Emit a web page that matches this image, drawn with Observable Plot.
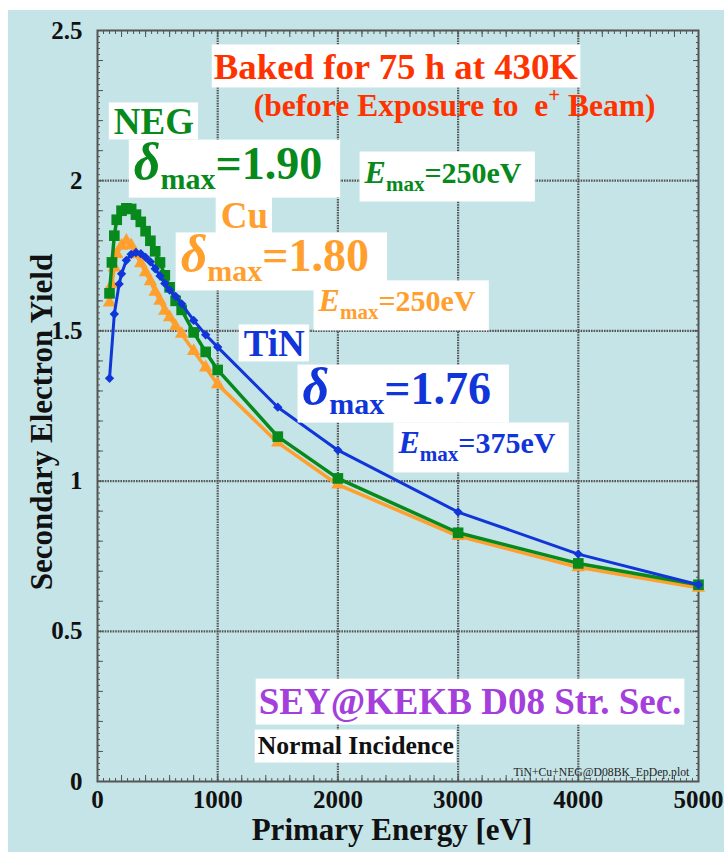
<!DOCTYPE html>
<html><head><meta charset="utf-8">
<script src="https://cdn.jsdelivr.net/npm/d3@7"></script>
<script src="https://cdn.jsdelivr.net/npm/@observablehq/plot@0.6"></script>
<style>
html,body{margin:0;padding:0;background:#fff;}
#wrap{position:relative;width:724px;height:852px;overflow:hidden;}
#bg{position:absolute;left:8px;top:10px;right:0;bottom:0;background:#c5e4e7;}
#chart{position:absolute;left:0;top:0;}
</style></head><body>
<div id="wrap"><div id="bg"></div><div id="chart"></div></div>
<script>
// ---- data ----
const negEnergy = [100,120,140,160,200,240,280,320,360,400,440,480,520,560,600,650,700,800,900,1000,1500,2000,3000,4000,5000];
const negYield  = [1.625,1.728,1.817,1.87,1.90,1.908,1.906,1.887,1.863,1.832,1.80,1.765,1.728,1.685,1.645,1.60,1.57,1.495,1.43,1.37,1.148,1.009,0.828,0.726,0.655];
const cuEnergy  = [100,120,140,160,200,240,280,320,360,400,440,480,520,560,600,650,700,800,900,1000,1500,2000,3000,4000,5000];
const cuYield   = [1.594,1.655,1.711,1.756,1.783,1.80,1.785,1.755,1.725,1.695,1.665,1.63,1.60,1.567,1.545,1.515,1.49,1.433,1.378,1.322,1.128,0.988,0.817,0.713,0.645];
const tinEnergy = [100,140,180,200,240,280,320,360,400,440,480,520,560,600,650,700,800,900,1000,1500,2000,3000,4000,5000];
const tinYield  = [1.342,1.556,1.656,1.69,1.735,1.755,1.761,1.757,1.745,1.73,1.707,1.683,1.658,1.636,1.615,1.59,1.535,1.487,1.446,1.246,1.103,0.897,0.757,0.655];

const xTicks = [0,1000,2000,3000,4000,5000];
const yTicks = [0,0.5,1,1.5,2,2.5];
const xMinor = d3.range(0,5001,200);
const yMinor = d3.range(0,2.5001,0.1);
const xFine  = d3.range(0,5001,50);
const yFine  = d3.range(0,2.5001,0.02);

const notes = [
  {label:"Baked for 75 h at 430K", x:967, y:2.337, kind:"title"},
  {label:"(before Exposure to  e+ Beam)", x:1299, y:2.217, kind:"subtitle"},
  {label:"NEG", x:136, y:2.154, kind:"name", series:"NEG"},
  {label:"δmax=1.90", x:302, y:2.007, kind:"delta", series:"NEG"},
  {label:"Emax=250eV", x:2222, y:1.994, kind:"emax", series:"NEG"},
  {label:"Cu", x:1025, y:1.841, kind:"name", series:"Cu"},
  {label:"δmax=1.80", x:692, y:1.698, kind:"delta", series:"Cu"},
  {label:"Emax=250eV", x:1839, y:1.565, kind:"emax", series:"Cu"},
  {label:"TiN", x:1216, y:1.415, kind:"name", series:"TiN"},
  {label:"δmax=1.76", x:1706, y:1.258, kind:"delta", series:"TiN"},
  {label:"Emax=375eV", x:2504, y:1.092, kind:"emax", series:"TiN"},
  {label:"SEY@KEKB D08 Str. Sec.", x:1341, y:0.226, kind:"sey"},
  {label:"Normal Incidence", x:1333, y:0.093, kind:"incidence"},
  {label:"TiN+Cu+NEG@D08BK_EpDep.plot", x:3461, y:0.017, kind:"file"}
];

// ---- styles ----
const C = {NEG:"#07891c", Cu:"#ffa02e", TiN:"#1035d8", red:"#ff3300", purple:"#a43fdb", ink:"#111111", grid:"#555555", frame:"#555555"};
const FONT = "'Liberation Serif','Times New Roman',serif";
const S = {
  title:{size:36.8, weight:"bold", color:C.red, box:[2,2,2,0]},
  subtitle:{size:31.5, weight:"bold", color:C.red, box:null},
  name:{size:37, weight:"bold", box:[5,-1,4,-3]},
  delta:{size:46, weight:"bold", box:[5,-7,18,3]},
  emax:{size:30, weight:"bold", box:[4,2,13,6]},
  sey:{size:37, weight:"bold", color:C.purple, box:[3,2,3,3]},
  incidence:{size:25.7, weight:"bold", color:C.ink, box:[3,1,2,3]},
  file:{size:11.7, weight:"normal", color:"#222", box:null}
};
const colorOf = n => n.series ? C[n.series] : S[n.kind].color;

const toRows = (E, V) => E.map((e,i) => ({e, v:V[i]}));
const neg = toRows(negEnergy, negYield);
const cu = toRows(cuEnergy, cuYield);
const tin = toRows(tinEnergy, tinYield);

const edgeTicks = (xt, yt, size) => [
  Plot.axisX(xt, {anchor:"bottom", tickSize:-size, tickFormat:()=>"", stroke:C.frame, label:null}),
  Plot.axisX(xt, {anchor:"top", tickSize:-size, tickFormat:()=>"", stroke:C.frame, label:null}),
  Plot.axisY(yt, {anchor:"left", tickSize:-size, tickFormat:()=>"", stroke:C.frame, label:null}),
  Plot.axisY(yt, {anchor:"right", tickSize:-size, tickFormat:()=>"", stroke:C.frame, label:null})
];

const plot = Plot.plot({
  width:724, height:852,
  marginLeft:97, marginRight:26, marginTop:30, marginBottom:71,
  x:{domain:[0,5000], axis:null, label:null},
  y:{domain:[0,2.5], axis:null, label:null},
  style:{background:"transparent", fontFamily:FONT, color:C.ink, overflow:"visible"},
  marks:[
    Plot.gridX(xTicks.slice(1,-1), {stroke:C.grid, strokeOpacity:1, strokeWidth:2.2, strokeDasharray:"1.6,1"}),
    Plot.gridY(yTicks.slice(1,-1), {stroke:C.grid, strokeOpacity:1, strokeWidth:2.2, strokeDasharray:"1.6,1"}),
    ...edgeTicks(xFine, yFine, 3),
    ...edgeTicks(xMinor, yMinor, 6),
    Plot.frame({stroke:C.frame, strokeWidth:2}),
    Plot.axisX(xTicks, {anchor:"bottom", tickSize:0, tickPadding:9, tickFormat:d=>String(d), fontSize:25, fontWeight:"bold", fill:C.ink, label:null}),
    Plot.axisY(yTicks, {anchor:"left", tickSize:0, tickPadding:15, tickFormat:d=>String(d), fontSize:25, fontWeight:"bold", fill:C.ink, label:null}),
    Plot.line(cu, {x:"e", y:"v", stroke:C.Cu, strokeWidth:3.5}),
    Plot.dot(cu, {x:"e", y:"v", symbol:"triangle", r:5, fill:C.Cu, stroke:"none"}),
    Plot.line(neg, {x:"e", y:"v", stroke:C.NEG, strokeWidth:3.5}),
    Plot.dot(neg, {x:"e", y:"v", symbol:"square", r:6, fill:C.NEG, stroke:"none"}),
    Plot.line(tin, {x:"e", y:"v", stroke:C.TiN, strokeWidth:3}),
    Plot.dot(tin, {x:"e", y:"v", symbol:"diamond2", r:4.2, fill:C.TiN, stroke:"none"}),
    ...notes.map(n => Plot.text([n], {x:"x", y:"y", text:"label", textAnchor:"start", lineAnchor:"bottom",
        fill:colorOf(n), fontSize:S[n.kind].size, fontWeight:S[n.kind].weight, fontFamily:FONT}))
  ]
});
document.getElementById("chart").appendChild(plot);

// ---- rich text + white label boxes ----
const svg = d3.select(plot);
const groups = svg.selectAll('g[aria-label="text"]').nodes();
groups.forEach((g, i) => {
  const n = notes[i];
  if (!n) return;
  const st = S[n.kind];
  const t = d3.select(g).select("text");
  t.attr("xml:space","preserve").style("white-space","pre");
  let parts = null;
  if (n.kind === "delta" || n.kind === "emax") {
    const head = n.label.slice(0,1), rest = n.label.slice(4);
    parts = n.kind === "delta"
      ? [{t:head, size:52, italic:true}, {t:"max", size:30, dy:10}, {t:rest, size:46, dy:-10}]
      : [{t:head, size:32, italic:true}, {t:"max", size:21, dy:8}, {t:rest, size:30, dy:-8}];
  } else if (n.kind === "subtitle") {
    const [a, b] = n.label.split("+");
    parts = [{t:a, size:31.5}, {t:"+", size:21, dy:-14}, {t:b, size:31.5, dy:14}];
  }
  if (parts) {
    t.text(null);
    parts.forEach(p => {
      const ts = t.append("tspan").text(p.t).attr("font-size", p.size);
      if (p.italic) ts.attr("font-style","italic");
      if (p.dy) ts.attr("dy", p.dy);
    });
  }
  if (st.box) {
    const bb = t.node().getBBox();
    const [l, tp, r, b] = st.box;
    d3.select(g).insert("rect", "text")
      .attr("transform", t.attr("transform"))
      .attr("x", bb.x - l).attr("y", bb.y - tp)
      .attr("width", bb.width + l + r).attr("height", bb.height + tp + b)
      .attr("fill", "#ffffff");
  }
});

// ---- axis titles ----
svg.append("text").attr("x", 392).attr("y", 840).attr("text-anchor","middle")
  .attr("font-family", FONT).attr("font-size", 31).attr("font-weight","bold").attr("fill", C.ink)
  .text("Primary Energy [eV]");
svg.append("text").attr("transform","translate(52,422) rotate(-90)").attr("text-anchor","middle")
  .attr("font-family", FONT).attr("font-size", 31).attr("font-weight","bold").attr("fill", C.ink)
  .text("Secondary Electron Yield");
</script>
</body></html>
